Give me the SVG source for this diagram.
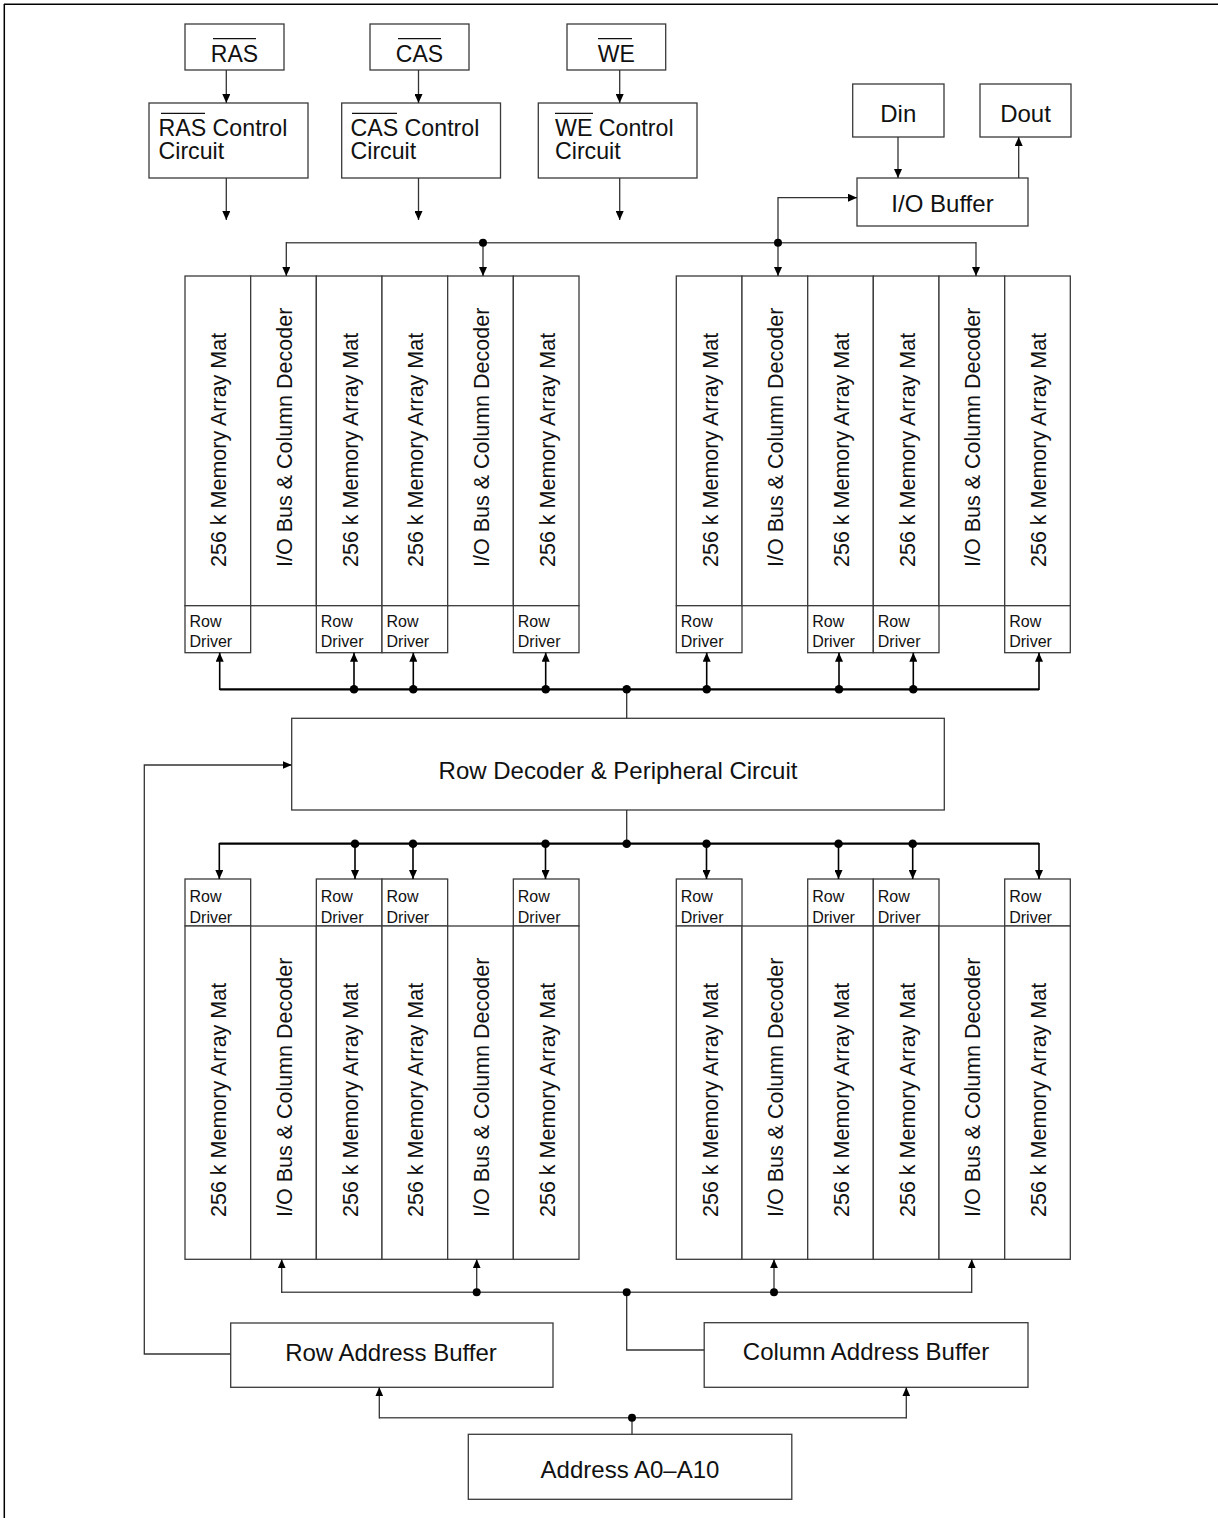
<svg xmlns="http://www.w3.org/2000/svg" width="1218" height="1518" viewBox="0 0 1218 1518">
<defs>
<style>
.box{fill:#fff;stroke:#3a3a3a;stroke-width:1.3}
.t{font-family:"Liberation Sans",Arial,Helvetica,sans-serif;fill:#111}
.big{font-size:24px}
.ctl{font-size:23.2px}
.sig{font-size:23px}
.v{font-size:21.5px}
.rd{font-size:16px}
.c{text-anchor:middle}
.ov{stroke:#111;stroke-width:1.3}
.bus{stroke:#000;stroke-width:2.3;fill:none}
.drop{stroke:#000;stroke-width:1.6;fill:none}
.cbus{stroke:#555;stroke-width:1.6;fill:none}
.wire{stroke:#333;stroke-width:1.3;fill:none}
.dot{fill:#000}
</style>
<marker id="ah" markerUnits="userSpaceOnUse" viewBox="0 0 9 8" markerWidth="9" markerHeight="8" refX="9" refY="4" orient="auto">
<path d="M0,0 L9,4 L0,8 z" fill="#000"/>
</marker>
</defs>
<rect x="0" y="0" width="1218" height="1518" fill="#fff"/>
<g id="frame">
<line x1="4" y1="4.3" x2="1218" y2="4.3" stroke="#000" stroke-width="1.5"/>
<line x1="4.3" y1="4" x2="4.3" y2="1518" stroke="#000" stroke-width="1.5"/>
</g>

<g id="ras">
<rect class="box" x="185" y="24" width="99" height="46"/>
<text class="t sig c" x="234.5" y="61.5">RAS</text>
<line class="ov" x1="213" y1="38.7" x2="256" y2="38.7"/>
</g>
<g id="cas">
<rect class="box" x="370" y="24" width="99" height="46"/>
<text class="t sig c" x="419.5" y="61.5">CAS</text>
<line class="ov" x1="398" y1="38.7" x2="441" y2="38.7"/>
</g>
<g id="we">
<rect class="box" x="567" y="24" width="98.7" height="46"/>
<text class="t sig c" x="616.3" y="61.5">WE</text>
<line class="ov" x1="598" y1="38.7" x2="632" y2="38.7"/>
</g>

<g id="ras-ctrl">
<rect class="box" x="149" y="103" width="159" height="75"/>
<text class="t ctl" x="158.5" y="135.5">RAS Control</text>
<text class="t ctl" x="158.5" y="158.8">Circuit</text>
<line class="ov" x1="161" y1="113.3" x2="205" y2="113.3"/>
</g>
<g id="cas-ctrl">
<rect class="box" x="341.7" y="103" width="158.8" height="75"/>
<text class="t ctl" x="350.5" y="135.5">CAS Control</text>
<text class="t ctl" x="350.5" y="158.8">Circuit</text>
<line class="ov" x1="352" y1="113.3" x2="397" y2="113.3"/>
</g>
<g id="we-ctrl">
<rect class="box" x="538.3" y="103" width="158.7" height="75"/>
<text class="t ctl" x="555" y="135.5">WE Control</text>
<text class="t ctl" x="555" y="158.8">Circuit</text>
<line class="ov" x1="555" y1="113.3" x2="593" y2="113.3"/>
</g>

<g id="din">
<rect class="box" x="852.7" y="84" width="91.3" height="53"/>
<text class="t big c" x="898.3" y="121.7">Din</text>
</g>
<g id="dout">
<rect class="box" x="980" y="84" width="91" height="53"/>
<text class="t big c" x="1025.5" y="121.7">Dout</text>
</g>
<g id="io-buffer">
<rect class="box" x="857" y="178" width="171" height="48"/>
<text class="t big c" x="942.5" y="211.7">I/O Buffer</text>
</g>

<!-- Upper left array group -->
<g id="ul-mat1"><rect class="box" x="185" y="276" width="65.67" height="329.7"/><rect class="box" x="185" y="605.7" width="65.67" height="47"/><text class="t v" transform="translate(226.3,567) rotate(-90)">256 k Memory Array Mat</text><text class="t rd" x="189.5" y="626.7">Row</text><text class="t rd" x="189.5" y="647.3">Driver</text></g>
<g id="ul-io1"><rect class="box" x="250.67" y="276" width="65.66" height="329.7"/><text class="t v" transform="translate(292,567) rotate(-90)">I/O Bus &amp; Column Decoder</text></g>
<g id="ul-mat2"><rect class="box" x="316.33" y="276" width="65.67" height="329.7"/><rect class="box" x="316.33" y="605.7" width="65.67" height="47"/><text class="t v" transform="translate(357.7,567) rotate(-90)">256 k Memory Array Mat</text><text class="t rd" x="320.8" y="626.7">Row</text><text class="t rd" x="320.8" y="647.3">Driver</text></g>
<g id="ul-mat3"><rect class="box" x="382" y="276" width="65.67" height="329.7"/><rect class="box" x="382" y="605.7" width="65.67" height="47"/><text class="t v" transform="translate(423.3,567) rotate(-90)">256 k Memory Array Mat</text><text class="t rd" x="386.5" y="626.7">Row</text><text class="t rd" x="386.5" y="647.3">Driver</text></g>
<g id="ul-io2"><rect class="box" x="447.67" y="276" width="65.66" height="329.7"/><text class="t v" transform="translate(489,567) rotate(-90)">I/O Bus &amp; Column Decoder</text></g>
<g id="ul-mat4"><rect class="box" x="513.33" y="276" width="65.67" height="329.7"/><rect class="box" x="513.33" y="605.7" width="65.67" height="47"/><text class="t v" transform="translate(554.7,567) rotate(-90)">256 k Memory Array Mat</text><text class="t rd" x="517.8" y="626.7">Row</text><text class="t rd" x="517.8" y="647.3">Driver</text></g>

<!-- Upper right array group -->
<g id="ur-mat1"><rect class="box" x="676.3" y="276" width="65.7" height="329.7"/><rect class="box" x="676.3" y="605.7" width="65.7" height="47"/><text class="t v" transform="translate(717.7,567) rotate(-90)">256 k Memory Array Mat</text><text class="t rd" x="680.8" y="626.7">Row</text><text class="t rd" x="680.8" y="647.3">Driver</text></g>
<g id="ur-io1"><rect class="box" x="742" y="276" width="65.7" height="329.7"/><text class="t v" transform="translate(783.3,567) rotate(-90)">I/O Bus &amp; Column Decoder</text></g>
<g id="ur-mat2"><rect class="box" x="807.7" y="276" width="65.6" height="329.7"/><rect class="box" x="807.7" y="605.7" width="65.6" height="47"/><text class="t v" transform="translate(849,567) rotate(-90)">256 k Memory Array Mat</text><text class="t rd" x="812.2" y="626.7">Row</text><text class="t rd" x="812.2" y="647.3">Driver</text></g>
<g id="ur-mat3"><rect class="box" x="873.3" y="276" width="65.7" height="329.7"/><rect class="box" x="873.3" y="605.7" width="65.7" height="47"/><text class="t v" transform="translate(914.7,567) rotate(-90)">256 k Memory Array Mat</text><text class="t rd" x="877.8" y="626.7">Row</text><text class="t rd" x="877.8" y="647.3">Driver</text></g>
<g id="ur-io2"><rect class="box" x="939" y="276" width="65.7" height="329.7"/><text class="t v" transform="translate(980.3,567) rotate(-90)">I/O Bus &amp; Column Decoder</text></g>
<g id="ur-mat4"><rect class="box" x="1004.7" y="276" width="65.6" height="329.7"/><rect class="box" x="1004.7" y="605.7" width="65.6" height="47"/><text class="t v" transform="translate(1046,567) rotate(-90)">256 k Memory Array Mat</text><text class="t rd" x="1009.2" y="626.7">Row</text><text class="t rd" x="1009.2" y="647.3">Driver</text></g>

<g id="row-decoder">
<rect class="box" x="291.7" y="718.3" width="652.6" height="91.7"/>
<text class="t big c" x="618" y="779.3">Row Decoder &amp; Peripheral Circuit</text>
</g>

<!-- Lower left array group -->
<g id="ll-mat1"><rect class="box" x="185" y="879" width="65.67" height="47"/><rect class="box" x="185" y="926" width="65.67" height="333.3"/><text class="t v" transform="translate(226.3,1217) rotate(-90)">256 k Memory Array Mat</text><text class="t rd" x="189.5" y="902.3">Row</text><text class="t rd" x="189.5" y="922.7">Driver</text></g>
<g id="ll-io1"><rect class="box" x="250.67" y="926" width="65.66" height="333.3"/><text class="t v" transform="translate(292,1217) rotate(-90)">I/O Bus &amp; Column Decoder</text></g>
<g id="ll-mat2"><rect class="box" x="316.33" y="879" width="65.67" height="47"/><rect class="box" x="316.33" y="926" width="65.67" height="333.3"/><text class="t v" transform="translate(357.7,1217) rotate(-90)">256 k Memory Array Mat</text><text class="t rd" x="320.8" y="902.3">Row</text><text class="t rd" x="320.8" y="922.7">Driver</text></g>
<g id="ll-mat3"><rect class="box" x="382" y="879" width="65.67" height="47"/><rect class="box" x="382" y="926" width="65.67" height="333.3"/><text class="t v" transform="translate(423.3,1217) rotate(-90)">256 k Memory Array Mat</text><text class="t rd" x="386.5" y="902.3">Row</text><text class="t rd" x="386.5" y="922.7">Driver</text></g>
<g id="ll-io2"><rect class="box" x="447.67" y="926" width="65.66" height="333.3"/><text class="t v" transform="translate(489,1217) rotate(-90)">I/O Bus &amp; Column Decoder</text></g>
<g id="ll-mat4"><rect class="box" x="513.33" y="879" width="65.67" height="47"/><rect class="box" x="513.33" y="926" width="65.67" height="333.3"/><text class="t v" transform="translate(554.7,1217) rotate(-90)">256 k Memory Array Mat</text><text class="t rd" x="517.8" y="902.3">Row</text><text class="t rd" x="517.8" y="922.7">Driver</text></g>

<!-- Lower right array group -->
<g id="lr-mat1"><rect class="box" x="676.3" y="879" width="65.7" height="47"/><rect class="box" x="676.3" y="926" width="65.7" height="333.3"/><text class="t v" transform="translate(717.7,1217) rotate(-90)">256 k Memory Array Mat</text><text class="t rd" x="680.8" y="902.3">Row</text><text class="t rd" x="680.8" y="922.7">Driver</text></g>
<g id="lr-io1"><rect class="box" x="742" y="926" width="65.7" height="333.3"/><text class="t v" transform="translate(783.3,1217) rotate(-90)">I/O Bus &amp; Column Decoder</text></g>
<g id="lr-mat2"><rect class="box" x="807.7" y="879" width="65.6" height="47"/><rect class="box" x="807.7" y="926" width="65.6" height="333.3"/><text class="t v" transform="translate(849,1217) rotate(-90)">256 k Memory Array Mat</text><text class="t rd" x="812.2" y="902.3">Row</text><text class="t rd" x="812.2" y="922.7">Driver</text></g>
<g id="lr-mat3"><rect class="box" x="873.3" y="879" width="65.7" height="47"/><rect class="box" x="873.3" y="926" width="65.7" height="333.3"/><text class="t v" transform="translate(914.7,1217) rotate(-90)">256 k Memory Array Mat</text><text class="t rd" x="877.8" y="902.3">Row</text><text class="t rd" x="877.8" y="922.7">Driver</text></g>
<g id="lr-io2"><rect class="box" x="939" y="926" width="65.7" height="333.3"/><text class="t v" transform="translate(980.3,1217) rotate(-90)">I/O Bus &amp; Column Decoder</text></g>
<g id="lr-mat4"><rect class="box" x="1004.7" y="879" width="65.6" height="47"/><rect class="box" x="1004.7" y="926" width="65.6" height="333.3"/><text class="t v" transform="translate(1046,1217) rotate(-90)">256 k Memory Array Mat</text><text class="t rd" x="1009.2" y="902.3">Row</text><text class="t rd" x="1009.2" y="922.7">Driver</text></g>

<g id="row-address-buffer">
<rect class="box" x="230.7" y="1323" width="322.3" height="64.3"/>
<text class="t big c" x="391" y="1361">Row Address Buffer</text>
</g>
<g id="column-address-buffer">
<rect class="box" x="704.2" y="1322.7" width="323.8" height="64.6"/>
<text class="t big c" x="866" y="1360">Column Address Buffer</text>
</g>
<g id="address">
<rect class="box" x="468.3" y="1434.3" width="323.5" height="65"/>
<text class="t big c" x="630" y="1478.3">Address A0–A10</text>
</g>

<g id="connectors">
<line class="wire" x1="226.3" y1="70" x2="226.3" y2="103" marker-end="url(#ah)"/>
<line class="wire" x1="226.3" y1="178" x2="226.3" y2="220" marker-end="url(#ah)"/>
<line class="wire" x1="418.5" y1="70" x2="418.5" y2="103" marker-end="url(#ah)"/>
<line class="wire" x1="418.5" y1="178" x2="418.5" y2="220" marker-end="url(#ah)"/>
<line class="wire" x1="619.7" y1="70" x2="619.7" y2="103" marker-end="url(#ah)"/>
<line class="wire" x1="619.7" y1="178" x2="619.7" y2="220" marker-end="url(#ah)"/>
<line class="wire" x1="898" y1="137" x2="898" y2="178" marker-end="url(#ah)"/>
<line class="wire" x1="1018.7" y1="178" x2="1018.7" y2="137" marker-end="url(#ah)"/>
<path class="wire" d="M778,242.7 V197.7 H857" marker-end="url(#ah)"/>
<line class="cbus" x1="286.3" y1="242.7" x2="976" y2="242.7"/>
<line class="wire" x1="286.3" y1="242" x2="286.3" y2="276" marker-end="url(#ah)"/>
<line class="wire" x1="483" y1="242.7" x2="483" y2="276" marker-end="url(#ah)"/>
<line class="wire" x1="778" y1="242.7" x2="778" y2="276" marker-end="url(#ah)"/>
<line class="wire" x1="976" y1="242" x2="976" y2="276" marker-end="url(#ah)"/>
<circle class="dot" cx="483" cy="242.7" r="4"/>
<circle class="dot" cx="778" cy="242.7" r="4"/>
<line class="bus" x1="219.7" y1="689.3" x2="1039" y2="689.3"/>
<line class="drop" x1="219.7" y1="690" x2="219.7" y2="652.7" marker-end="url(#ah)"/>
<line class="drop" x1="354" y1="689.3" x2="354" y2="652.7" marker-end="url(#ah)"/>
<line class="drop" x1="413.3" y1="689.3" x2="413.3" y2="652.7" marker-end="url(#ah)"/>
<line class="drop" x1="545.7" y1="689.3" x2="545.7" y2="652.7" marker-end="url(#ah)"/>
<line class="drop" x1="706.7" y1="689.3" x2="706.7" y2="652.7" marker-end="url(#ah)"/>
<line class="drop" x1="839" y1="689.3" x2="839" y2="652.7" marker-end="url(#ah)"/>
<line class="drop" x1="913.3" y1="689.3" x2="913.3" y2="652.7" marker-end="url(#ah)"/>
<line class="drop" x1="1039" y1="690" x2="1039" y2="652.7" marker-end="url(#ah)"/>
<line class="wire" x1="626.7" y1="689.3" x2="626.7" y2="718.3"/>
<circle class="dot" cx="354" cy="689.3" r="4.3"/>
<circle class="dot" cx="413.3" cy="689.3" r="4.3"/>
<circle class="dot" cx="545.7" cy="689.3" r="4.3"/>
<circle class="dot" cx="626.7" cy="689.3" r="4.3"/>
<circle class="dot" cx="706.7" cy="689.3" r="4.3"/>
<circle class="dot" cx="839" cy="689.3" r="4.3"/>
<circle class="dot" cx="913.3" cy="689.3" r="4.3"/>
<line class="wire" x1="626.7" y1="810" x2="626.7" y2="843.7"/>
<line class="bus" x1="219.3" y1="843.7" x2="1039" y2="843.7"/>
<line class="drop" x1="219.3" y1="843" x2="219.3" y2="879" marker-end="url(#ah)"/>
<line class="drop" x1="355" y1="843.7" x2="355" y2="879" marker-end="url(#ah)"/>
<line class="drop" x1="413" y1="843.7" x2="413" y2="879" marker-end="url(#ah)"/>
<line class="drop" x1="545.5" y1="843.7" x2="545.5" y2="879" marker-end="url(#ah)"/>
<line class="drop" x1="706.5" y1="843.7" x2="706.5" y2="879" marker-end="url(#ah)"/>
<line class="drop" x1="838.5" y1="843.7" x2="838.5" y2="879" marker-end="url(#ah)"/>
<line class="drop" x1="912.7" y1="843.7" x2="912.7" y2="879" marker-end="url(#ah)"/>
<line class="drop" x1="1039" y1="843" x2="1039" y2="879" marker-end="url(#ah)"/>
<circle class="dot" cx="355" cy="843.7" r="4.3"/>
<circle class="dot" cx="413" cy="843.7" r="4.3"/>
<circle class="dot" cx="545.5" cy="843.7" r="4.3"/>
<circle class="dot" cx="626.7" cy="843.7" r="4.3"/>
<circle class="dot" cx="706.5" cy="843.7" r="4.3"/>
<circle class="dot" cx="838.5" cy="843.7" r="4.3"/>
<circle class="dot" cx="912.7" cy="843.7" r="4.3"/>
<path class="wire" d="M230.7,1354 H144.3 V765 H291.7" marker-end="url(#ah)"/>
<line class="cbus" x1="281.7" y1="1292.3" x2="971.7" y2="1292.3"/>
<line class="wire" x1="281.7" y1="1293" x2="281.7" y2="1259.3" marker-end="url(#ah)"/>
<line class="wire" x1="476.7" y1="1292.3" x2="476.7" y2="1259.3" marker-end="url(#ah)"/>
<line class="wire" x1="774" y1="1292.3" x2="774" y2="1259.3" marker-end="url(#ah)"/>
<line class="wire" x1="971.7" y1="1293" x2="971.7" y2="1259.3" marker-end="url(#ah)"/>
<path class="wire" d="M626.7,1292.3 V1350 H704.2"/>
<circle class="dot" cx="476.7" cy="1292.3" r="4"/>
<circle class="dot" cx="626.7" cy="1292.3" r="4"/>
<circle class="dot" cx="774" cy="1292.3" r="4"/>
<line class="wire" x1="632" y1="1434.3" x2="632" y2="1417.7"/>
<line class="cbus" x1="379.3" y1="1417.7" x2="906.3" y2="1417.7"/>
<line class="wire" x1="379.3" y1="1418.4" x2="379.3" y2="1387.3" marker-end="url(#ah)"/>
<line class="wire" x1="906.3" y1="1418.4" x2="906.3" y2="1387.3" marker-end="url(#ah)"/>
<circle class="dot" cx="632" cy="1417.7" r="4"/>
</g>
</svg>
